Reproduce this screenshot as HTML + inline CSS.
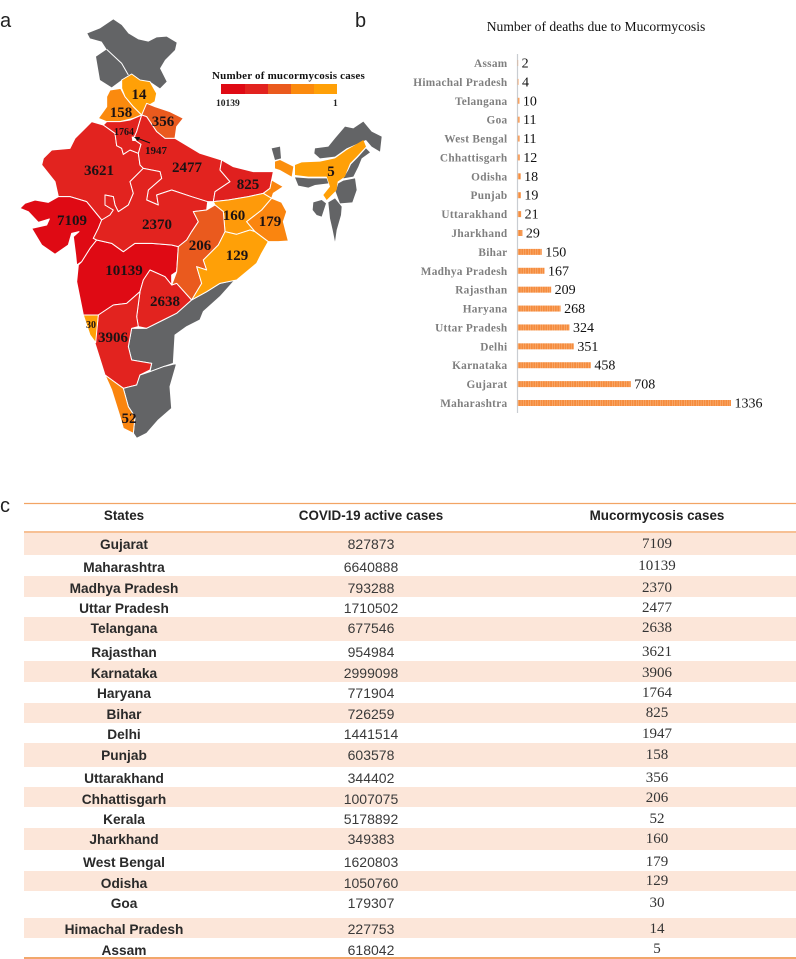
<!DOCTYPE html>
<html lang="en">
<head>
<meta charset="utf-8">
<title>Mucormycosis in India</title>
<style>
html,body{margin:0;padding:0;background:#fff}
svg{display:block}
text{font-family:"Liberation Serif",serif}
.panel{font-family:"Liberation Sans",sans-serif;font-size:20px;fill:#222}
.m{font-weight:bold;font-size:15px;text-anchor:middle;fill:#1c1214}
.h{font-family:"Liberation Sans",sans-serif;font-weight:bold;font-size:13.4px;text-anchor:middle;fill:#222}
.s{font-family:"Liberation Sans",sans-serif;font-weight:bold;font-size:13.7px;text-anchor:middle;fill:#2a2a2a}
.a{font-family:"Liberation Sans",sans-serif;font-size:14px;text-anchor:middle;fill:#3a3a3a}
.c{font-size:15px;text-anchor:middle;fill:#333}
.cat{font-weight:bold;font-size:11.3px;text-anchor:end;fill:#7f7f7f;letter-spacing:.3px}
.val{font-size:14px;fill:#111}
.r polygon{stroke:#fff;stroke-width:3;stroke-linejoin:round}
.r polygon.n{stroke:none}
</style>
</head>
<body>
<svg id="figure" xmlns="http://www.w3.org/2000/svg" width="796" height="959" viewBox="0 0 796 959">
<defs>
<pattern id="hatch" patternUnits="userSpaceOnUse" width="2.4" height="8">
<rect width="2.4" height="8" fill="#F58C3E"/>
<rect width="0.4" height="8" fill="#FBC79B"/>
</pattern>
</defs>
<rect width="796" height="959" fill="#fff"/>

<text class="panel" x="0" y="27">a</text>
<text class="panel" x="355" y="27">b</text>
<text class="panel" x="0" y="512">c</text>

<g class="r">
<g transform="scale(0.33333)">
<polygon class="n" fill="#636466" points="262,100 300,85 340,58 365,75 385,100 415,118 445,125 470,112 500,110 530,128 525,150 495,180 480,205 500,245 480,265 450,245 420,240 395,222 365,240 335,262 300,240 288,170 320,148 305,125 270,115"/>
<polyline points="320,148 365,190 385,225" fill="none" stroke="#fff" stroke-width="3"/>
<polygon fill="#FB8A0E" points="320,290 330,270 362,265 375,290 400,320 425,345 400,355 360,365 320,365 295,355 320,320"/>
<polygon fill="#FFA007" points="365,240 395,222 420,240 450,245 470,280 465,305 440,320 425,345 400,320 375,290 365,265"/>
<polygon fill="#EA5A1E" points="440,310 465,320 510,335 550,355 530,380 525,415 495,415 470,395 440,350 425,345"/>
<polygon fill="#DF0A14" points="245,785 270,745 290,720 335,730 370,755 405,730 455,730 515,735 535,740 530,815 515,825 515,855 495,830 450,810 430,840 420,875 380,910 340,915 295,945 250,945 230,845 235,795"/>
<polygon fill="#E2231F" points="450,810 495,830 515,855 530,850 575,900 530,940 490,960 440,985 415,980 410,950 420,875 430,840"/>
<polygon fill="#636466" points="395,985 440,985 490,960 530,940 575,900 620,875 660,850 705,840 660,890 610,935 600,960 560,980 525,1005 520,1090 490,1100 450,1115 455,1090 395,1080 385,1040"/>
<polygon fill="#E2231F" points="420,875 410,950 415,980 395,985 385,1040 395,1080 455,1090 450,1110 420,1125 410,1155 370,1165 315,1125 285,1030 295,945 340,915 380,910"/>
<polygon fill="#FFA007" points="250,945 295,945 287,1028 270,1005"/>
<polygon fill="#636466" points="370,1165 410,1155 420,1125 450,1115 490,1100 530,1090 510,1160 515,1225 475,1260 440,1300 410,1315 400,1300 405,1250 385,1220"/>
<polygon fill="#FA850F" points="315,1125 370,1165 385,1220 405,1250 400,1300 370,1285 360,1250 335,1170"/>
</g>
<g transform="translate(15,115) scale(0.33333)">
<polygon fill="#E2231F" points="230,20 265,30 300,55 305,92 320,100 325,118 345,105 370,115 375,150 385,160 345,200 355,235 340,270 310,290 300,270 295,245 270,240 270,270 295,285 285,300 260,315 215,260 165,245 130,245 120,200 100,175 80,150 85,130 110,105 165,100 180,70"/>
<polygon fill="#DF0A14" points="130,245 165,245 215,260 260,315 250,340 235,370 245,375 225,400 200,440 185,450 182,420 175,365 192,350 170,355 160,390 120,418 80,390 50,340 95,330 103,312 70,322 40,290 15,280 30,265 60,255 100,262"/>
<polygon fill="#E2231F" points="265,30 275,20 315,20 345,15 380,0 365,50 355,72 378,88 370,115 345,105 325,118 320,100 305,92 300,55"/>
<polygon fill="#E2231F" points="380,0 395,5 425,50 450,70 480,70 555,115 620,135 615,165 645,200 600,230 595,260 578,260 530,245 470,225 425,240 430,270 395,255 400,225 440,190 435,170 385,160 375,150 370,115 378,88 355,72 365,50"/>
<polygon fill="#fff" class="n" points="350,65 362,65 364,78 352,78"/>
<polygon fill="#E2231F" points="385,160 435,170 440,190 400,225 395,255 430,270 425,240 470,225 530,245 578,260 575,285 535,290 550,320 530,350 515,375 490,395 470,390 410,385 360,385 325,410 290,385 245,375 235,370 250,340 260,315 285,300 295,285 270,270 270,240 295,245 300,270 310,290 340,270 355,235 345,200"/>
<polygon fill="#E0201F" points="620,135 655,155 715,170 775,170 765,220 745,235 700,245 640,255 595,260 600,230 645,200 615,165"/>
<polygon fill="#FE9A0A" points="595,260 640,255 700,245 745,235 770,250 740,285 695,320 720,350 705,345 665,358 630,350 625,290 600,270"/>
<polygon fill="#FA850F" points="770,250 800,262 815,290 805,320 820,378 790,380 760,380 720,350 695,320 740,285"/>
<polygon fill="#FA850F" points="770,195 805,215 775,235 770,250 745,235 765,220"/>
<polygon fill="#EA5A1E" points="535,290 575,285 600,270 625,290 630,350 610,390 565,435 575,465 545,455 560,505 530,555 485,505 470,510 485,470 490,395 515,375 530,350 550,320"/>
<polygon fill="#FFA007" points="610,390 630,350 665,358 705,345 720,350 760,380 740,415 725,445 665,495 615,505 575,530 530,555 560,505 545,455 575,465 565,435"/>
</g>
<g transform="translate(265,115) scale(0.33333)">
<polygon class="n" fill="#636466" points="20,100 45,95 48,130 30,135"/>
<polygon class="n" fill="#FB8F0E" points="30,140 45,135 85,155 80,185 45,165 30,160"/>
<polygon class="n" fill="#636466" points="150,100 190,95 210,70 240,35 265,40 295,20 320,50 350,65 345,110 320,95 303,75 245,100 210,125 165,130 148,115"/>
<polygon class="n" fill="#636466" points="303,100 315,112 290,130 280,155 265,185 235,190 250,165 258,148 278,128"/>
<polygon class="n" fill="#636466" points="235,197 270,190 275,225 262,262 225,265 212,230 220,205"/>
<polygon class="n" fill="#636466" points="90,187 130,190 185,190 190,205 150,210 130,218 100,212"/>
<polygon class="n" fill="#636466" points="145,262 170,255 183,265 170,305 155,300 143,285"/>
<polygon class="n" fill="#636466" points="190,262 210,250 230,275 228,300 215,345 210,380 203,345 195,310"/>
<polygon class="n" fill="#FFA007" points="90,150 110,142 165,140 210,130 245,105 295,75 303,95 275,125 255,145 245,170 240,185 218,200 215,225 185,255 175,240 195,215 185,185 130,185 90,180"/>
</g>
</g>

<line x1="150" y1="143" x2="137" y2="138" stroke="#111" stroke-width="1"/>
<polygon points="134,137 140,137 138,141" fill="#111"/>

<g>
<text class="m" x="99" y="175">3621</text>
<text class="m" x="72" y="225">7109</text>
<text class="m" x="157" y="229">2370</text>
<text class="m" x="187" y="172">2477</text>
<text class="m" x="248" y="189">825</text>
<text class="m" x="234" y="220">160</text>
<text class="m" x="270" y="226">179</text>
<text class="m" x="200" y="250">206</text>
<text class="m" x="237" y="260">129</text>
<text class="m" x="124" y="275">10139</text>
<text class="m" x="165" y="306">2638</text>
<text class="m" x="113" y="342">3906</text>
<text class="m" x="91" y="328" style="font-size:10px">30</text>
<text class="m" x="129" y="423">52</text>
<text class="m" x="139" y="99">14</text>
<text class="m" x="121" y="117">158</text>
<text class="m" x="163" y="126">356</text>
<text class="m" x="124" y="135" style="font-size:10px">1764</text>
<text class="m" x="156" y="154" style="font-size:11px">1947</text>
<text class="m" x="331" y="176">5</text>
</g>

<g>
<text x="212" y="79" font-weight="bold" font-size="11" letter-spacing=".2" fill="#111">Number of mucormycosis cases</text>
<rect x="221" y="84" width="24" height="10" fill="#DF0A14"/>
<rect x="245" y="84" width="23" height="10" fill="#E2231F"/>
<rect x="268" y="84" width="23" height="10" fill="#EA5A1E"/>
<rect x="291" y="84" width="23" height="10" fill="#FB8A0E"/>
<rect x="314" y="84" width="23" height="10" fill="#FFA007"/>
<text x="216" y="106" font-weight="bold" font-size="9.5" fill="#222">10139</text>
<text x="333" y="106" font-weight="bold" font-size="9.5" fill="#222">1</text>
</g>

<g id="bar-chart">
<text x="596" y="31" font-size="13.6" text-anchor="middle" fill="#111">Number of deaths due to Mucormycosis</text>
</g>

<g>
<line x1="24" y1="503.5" x2="796" y2="503.5" stroke="#F2A464" stroke-width="1.2"/>
<line x1="24" y1="532" x2="796" y2="532" stroke="#F29A55" stroke-width="1.2"/>
<line x1="24" y1="958" x2="796" y2="958" stroke="#EE8A3A" stroke-width="1.4"/>
<rect x="24" y="533" width="772" height="22" fill="#FCE6D9"/>
<rect x="24" y="576" width="772" height="21" fill="#FCE6D9"/>
<rect x="24" y="617" width="772" height="24" fill="#FCE6D9"/>
<rect x="24" y="661" width="772" height="21" fill="#FCE6D9"/>
<rect x="24" y="703" width="772" height="20" fill="#FCE6D9"/>
<rect x="24" y="743" width="772" height="24" fill="#FCE6D9"/>
<rect x="24" y="787" width="772" height="20" fill="#FCE6D9"/>
<rect x="24" y="828" width="772" height="22" fill="#FCE6D9"/>
<rect x="24" y="871" width="772" height="20" fill="#FCE6D9"/>
<rect x="24" y="918" width="772" height="20" fill="#FCE6D9"/>

<text class="h" x="124" y="520">States</text>
<text class="h" x="371" y="520">COVID-19 active cases</text>
<text class="h" x="657" y="520">Mucormycosis cases</text>

<text class="s" x="124" y="549">Gujarat</text><text class="a" x="371" y="549">827873</text><text class="c" x="657" y="548">7109</text>
<text class="s" x="124" y="572">Maharashtra</text><text class="a" x="371" y="572">6640888</text><text class="c" x="657" y="570">10139</text>
<text class="s" x="124" y="593">Madhya Pradesh</text><text class="a" x="371" y="593">793288</text><text class="c" x="657" y="592">2370</text>
<text class="s" x="124" y="613">Uttar Pradesh</text><text class="a" x="371" y="613">1710502</text><text class="c" x="657" y="612">2477</text>
<text class="s" x="124" y="633">Telangana</text><text class="a" x="371" y="633">677546</text><text class="c" x="657" y="632">2638</text>
<text class="s" x="124" y="657">Rajasthan</text><text class="a" x="371" y="657">954984</text><text class="c" x="657" y="656">3621</text>
<text class="s" x="124" y="678">Karnataka</text><text class="a" x="371" y="678">2999098</text><text class="c" x="657" y="677">3906</text>
<text class="s" x="124" y="698">Haryana</text><text class="a" x="371" y="698">771904</text><text class="c" x="657" y="697">1764</text>
<text class="s" x="124" y="719">Bihar</text><text class="a" x="371" y="719">726259</text><text class="c" x="657" y="717">825</text>
<text class="s" x="124" y="739">Delhi</text><text class="a" x="371" y="739">1441514</text><text class="c" x="657" y="738">1947</text>
<text class="s" x="124" y="760">Punjab</text><text class="a" x="371" y="760">603578</text><text class="c" x="657" y="759">158</text>
<text class="s" x="124" y="783">Uttarakhand</text><text class="a" x="371" y="783">344402</text><text class="c" x="657" y="782">356</text>
<text class="s" x="124" y="804">Chhattisgarh</text><text class="a" x="371" y="804">1007075</text><text class="c" x="657" y="802">206</text>
<text class="s" x="124" y="824">Kerala</text><text class="a" x="371" y="824">5178892</text><text class="c" x="657" y="823">52</text>
<text class="s" x="124" y="844">Jharkhand</text><text class="a" x="371" y="844">349383</text><text class="c" x="657" y="843">160</text>
<text class="s" x="124" y="867">West Bengal</text><text class="a" x="371" y="867">1620803</text><text class="c" x="657" y="866">179</text>
<text class="s" x="124" y="888">Odisha</text><text class="a" x="371" y="888">1050760</text><text class="c" x="657" y="885">129</text>
<text class="s" x="124" y="908">Goa</text><text class="a" x="371" y="908">179307</text><text class="c" x="657" y="907">30</text>
<text class="s" x="124" y="934">Himachal Pradesh</text><text class="a" x="371" y="934">227753</text><text class="c" x="657" y="933">14</text>
<text class="s" x="124" y="955">Assam</text><text class="a" x="371" y="955">618042</text><text class="c" x="657" y="953">5</text>
</g>
</svg>

<script>
var barStates = ["Assam","Himachal Pradesh","Telangana","Goa","West Bengal","Chhattisgarh","Odisha","Punjab","Uttarakhand","Jharkhand","Bihar","Madhya Pradesh","Rajasthan","Haryana","Uttar Pradesh","Delhi","Karnataka","Gujarat","Maharashtra"];
var barDeaths = [2,4,10,11,11,12,18,19,21,29,150,167,209,268,324,351,458,708,1336];

var NS = "http://www.w3.org/2000/svg";
var chart = document.getElementById("bar-chart");
function xScale(v){ return 517.8 + v * (731 - 517.8) / 1336; }
function yScale(i){ return 63 + i * (403 - 63) / (barStates.length - 1); }

var axis = document.createElementNS(NS, "line");
axis.setAttribute("x1", xScale(0) - 0.3);
axis.setAttribute("x2", xScale(0) - 0.3);
axis.setAttribute("y1", 54);
axis.setAttribute("y2", 413);
axis.setAttribute("stroke", "#C9CDD2");
axis.setAttribute("stroke-width", 1.2);


chart.appendChild(axis);

barStates.forEach(function(state, i){
  var y = yScale(i);
  var label = document.createElementNS(NS, "text");
  label.setAttribute("class", "cat");
  label.setAttribute("x", 507.5);
  label.setAttribute("y", y + 4);
  label.textContent = state;
  
  
  chart.appendChild(label);

  var bar = document.createElementNS(NS, "rect");
  bar.setAttribute("x", xScale(0));
  bar.setAttribute("y", y - 3);
  bar.setAttribute("width", xScale(barDeaths[i]) - xScale(0));
  bar.setAttribute("height", 6);
  bar.setAttribute("fill", "url(#hatch)");
  
  
  chart.appendChild(bar);

  var value = document.createElementNS(NS, "text");
  value.setAttribute("class", "val");
  value.setAttribute("x", xScale(barDeaths[i]) + 3.5);
  value.setAttribute("y", y + 4.5);
  value.textContent = barDeaths[i];
  
  
  chart.appendChild(value);
});
</script>
</body>
</html>
